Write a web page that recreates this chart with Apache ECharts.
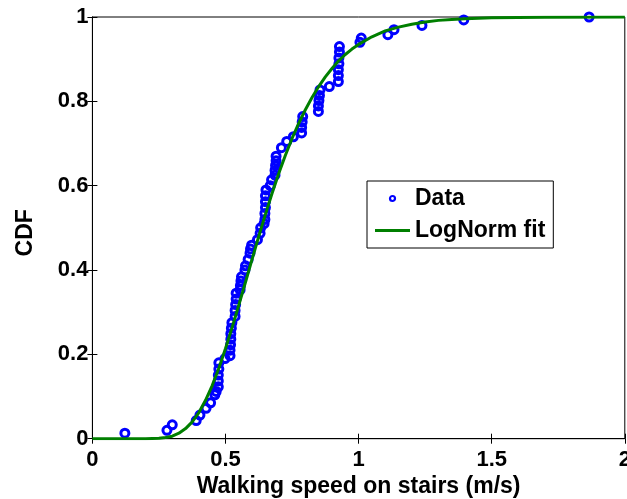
<!DOCTYPE html>
<html>
<head>
<meta charset="utf-8">
<script src="https://cdn.jsdelivr.net/npm/echarts@6/dist/echarts.min.js"></script>
<style>
html,body{margin:0;padding:0;background:#fff;}
#chart{width:627px;height:499px;}
</style>
</head>
<body>
<div id="chart"></div>
<script>
// Empirical CDF points (walking speed m/s, CDF)
const speedData = [0.122, 0.28, 0.30, 0.39, 0.404, 0.427, 0.444, 0.46, 0.465, 0.473, 0.473, 0.473, 0.475, 0.475, 0.498,
  0.517, 0.517, 0.519, 0.52, 0.52, 0.522, 0.524, 0.536, 0.536, 0.538, 0.54, 0.54, 0.555, 0.556, 0.558, 0.56,
  0.573, 0.575, 0.585, 0.592, 0.594, 0.598, 0.62, 0.63, 0.632, 0.645, 0.648, 0.648, 0.65, 0.65, 0.65, 0.652,
  0.668, 0.673, 0.686, 0.686, 0.688, 0.69, 0.69, 0.71, 0.73, 0.755, 0.786, 0.786, 0.788, 0.79,
  0.849, 0.849, 0.851, 0.853, 0.855, 0.89, 0.924, 0.924, 0.924, 0.926, 0.926, 0.928, 0.928,
  1.005, 1.01, 1.11, 1.133, 1.238, 1.395, 1.866];
const cdfData = [0.013, 0.02, 0.033, 0.043, 0.056, 0.072, 0.085, 0.104, 0.112, 0.123, 0.137, 0.151, 0.165, 0.18, 0.19,
  0.197, 0.210, 0.223, 0.236, 0.249, 0.262, 0.275, 0.29, 0.304, 0.318, 0.331, 0.345, 0.353, 0.363, 0.374, 0.384,
  0.40, 0.41, 0.425, 0.44, 0.45, 0.459, 0.472, 0.487, 0.50, 0.51, 0.52, 0.534, 0.548, 0.562, 0.576, 0.59,
  0.60, 0.614, 0.625, 0.636, 0.648, 0.659, 0.67, 0.69, 0.705, 0.716, 0.725, 0.738, 0.751, 0.764,
  0.776, 0.789, 0.802, 0.814, 0.827, 0.835, 0.847, 0.861, 0.875, 0.889, 0.903, 0.917, 0.93,
  0.94, 0.95, 0.958, 0.97, 0.98, 0.993, 1.0];
// LogNorm fit curve
const fitX = [0, 0.2, 0.25, 0.275, 0.3, 0.325, 0.35, 0.375, 0.4, 0.425, 0.45, 0.475, 0.5, 0.525, 0.55, 0.575, 0.6, 0.625, 0.65, 0.675,
  0.7, 0.725, 0.75, 0.775, 0.8, 0.825, 0.85, 0.875, 0.9, 0.925, 0.95, 0.975, 1.0, 1.05, 1.1, 1.15, 1.2, 1.25, 1.3, 1.35, 1.4, 1.5, 1.6, 1.7, 2.0];
const fitY = [0, 0, 0.001, 0.003, 0.006, 0.013, 0.024, 0.040, 0.062, 0.091, 0.126, 0.167, 0.214, 0.264, 0.317, 0.371, 0.426, 0.480, 0.532, 0.582,
  0.629, 0.672, 0.712, 0.748, 0.780, 0.809, 0.835, 0.858, 0.878, 0.896, 0.911, 0.924, 0.935, 0.953, 0.967, 0.976, 0.983, 0.988, 0.992, 0.994, 0.996, 0.998, 0.999, 0.9995, 1.0];
const xTicks = { min: 0, max: 2, interval: 0.5 };
const yTicks = { min: 0, max: 1, interval: 0.2 };
const seriesNames = ['Data', 'LogNorm fit'];
const xTitle = 'Walking speed on stairs (m/s)';
const yTitle = 'CDF';

const FONT = '"Liberation Sans", Arial, Helvetica, sans-serif';
const BLUE = '#0000ff';
const GREEN = '#007f00';
const chart = echarts.init(document.getElementById('chart'), null, { renderer: 'canvas' });

const baseAxis = {
  axisLine: { show: true, lineStyle: { color: '#000', width: 1 } },
  axisTick: { show: true, inside: true, length: 5, lineStyle: { color: '#000', width: 1 } },
  splitLine: { show: false },
};

chart.setOption({
  animation: false,
  backgroundColor: '#fff',
  grid: {
    left: 92.4, right: 2.2, top: 17, bottom: 60.3,
    containLabel: false, outerBoundsMode: 'none',
    show: true, borderColor: '#000', borderWidth: 1, backgroundColor: 'transparent'
  },
  legend: {
    data: [
      { name: seriesNames[0], icon: 'circle', itemStyle: { color: 'rgba(0,0,0,0)', borderColor: BLUE, borderWidth: 2.2 } },
      { name: seriesNames[1], icon: 'path://M0,0H36V3H0Z', itemStyle: { color: GREEN, borderWidth: 0 } }
    ],
    orient: 'vertical',
    left: 367, top: 181,
    padding: [6, 8, 6, 8],
    itemGap: 9,
    itemWidth: 35,
    itemHeight: 5,
    backgroundColor: '#fff',
    borderColor: '#000',
    borderWidth: 1,
    borderRadius: 0,
    textStyle: { fontFamily: FONT, fontWeight: 'bold', fontSize: 23, color: '#000' }
  },
  xAxis: [
    Object.assign({}, baseAxis, {
      type: 'value', position: 'bottom', min: xTicks.min, max: xTicks.max, interval: xTicks.interval,
      axisLabel: { color: '#000', fontFamily: FONT, fontWeight: 'bold', fontSize: 22, margin: 10 },
      name: xTitle, nameLocation: 'middle', nameGap: 36,
      nameTextStyle: { color: '#000', fontFamily: FONT, fontWeight: 'bold', fontSize: 23 }
    }),
    Object.assign({}, baseAxis, {
      type: 'value', position: 'top', min: xTicks.min, max: xTicks.max, interval: xTicks.interval,
      axisLabel: { show: false }
    })
  ],
  yAxis: [
    Object.assign({}, baseAxis, {
      type: 'value', position: 'left', min: yTicks.min, max: yTicks.max, interval: yTicks.interval,
      axisLabel: { color: '#000', fontFamily: FONT, fontWeight: 'bold', fontSize: 22, margin: 4 },
      name: yTitle, nameLocation: 'middle', nameGap: 55, nameRotate: 90,
      nameTextStyle: { color: '#000', fontFamily: FONT, fontWeight: 'bold', fontSize: 23, padding: [0, 10, 0, 0] }
    }),
    Object.assign({}, baseAxis, {
      type: 'value', position: 'right', min: yTicks.min, max: yTicks.max, interval: yTicks.interval,
      axisLabel: { show: false }
    })
  ],
  series: [
    {
      name: seriesNames[0],
      type: 'scatter',
      xAxisIndex: 0, yAxisIndex: 0,
      symbol: 'circle',
      symbolSize: 8,
      itemStyle: { color: 'rgba(0,0,0,0)', borderColor: BLUE, borderWidth: 3, opacity: 1 },
      emphasis: { disabled: true },
      data: speedData.map((v, i) => [v, cdfData[i]]),
      z: 2
    },
    {
      name: seriesNames[1],
      type: 'line',
      xAxisIndex: 0, yAxisIndex: 0,
      smooth: false,
      symbol: 'none',
      showSymbol: false,
      lineStyle: { color: GREEN, width: 3 },
      itemStyle: { color: GREEN },
      data: fitX.map((v, i) => [v, fitY[i]]),
      z: 3
    }
  ]
});
</script>
</body>
</html>
